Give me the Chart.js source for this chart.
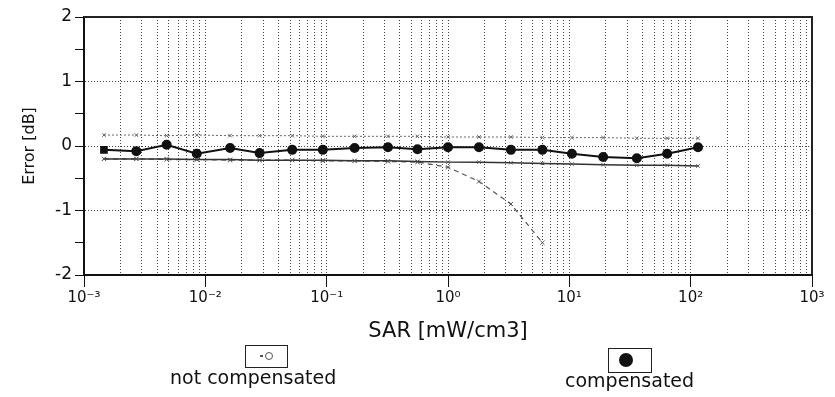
<!DOCTYPE html>
<html>
<head>
<meta charset="utf-8">
<script src="https://cdn.jsdelivr.net/npm/chart.js@4.4.1/dist/chart.umd.min.js"></script>
<style>
  body { margin: 0; background: #fff; }
  #wrap { position: relative; width: 835px; height: 397px; }
  .leg { position: absolute; font-family: "DejaVu Sans", sans-serif; font-size: 19px; color: #111; white-space: nowrap; }
  .box { position: absolute; border: 1px solid #222; background: #fff; }
</style>
</head>
<body>
<div id="wrap">
  <canvas id="c" width="835" height="397"></canvas>
  <div class="box" style="left:245px;top:345px;width:41px;height:21px;">
    <span style="position:absolute;left:14px;top:9px;width:3px;height:2px;background:#555;"></span>
    <span style="position:absolute;left:19px;top:6px;width:6px;height:6px;border:1px solid #555;border-radius:50%;"></span>
  </div>
  <div class="leg" style="left:170px;top:366px;">not compensated</div>
  <div class="box" style="left:608px;top:348px;width:42px;height:23px;">
    <span style="position:absolute;left:10px;top:4px;width:14px;height:14px;background:#111;border-radius:50%;"></span>
  </div>
  <div class="leg" style="left:565px;top:369px;">compensated</div>
</div>
<script>
// x axis: decades shown, minor steps inside each decade
var decades = [-3, -2, -1, 0, 1, 2, 3];
var minorSteps = [1, 2, 3, 4, 5, 6, 7, 8, 9];
var decadeLabels = ['10\u207B\u00B3', '10\u207B\u00B2', '10\u207B\u00B9', '10\u2070', '10\u00B9', '10\u00B2', '10\u00B3'];

// SAR [mW/cm3] of the measured points
var sarPoints = [0.00146, 0.0027, 0.0048, 0.0085, 0.016, 0.028, 0.052, 0.093, 0.17, 0.32,
                 0.56, 1.0, 1.8, 3.3, 6.0, 10.5, 19, 36, 64, 115];
// compensated error [dB]
var errCompensated = [-0.06, -0.08, 0.02, -0.12, -0.03, -0.11, -0.06, -0.06, -0.03, -0.02,
                      -0.05, -0.02, -0.02, -0.06, -0.06, -0.12, -0.17, -0.19, -0.12, -0.02];
// not compensated error [dB] (stops at 6 mW/cm3)
var errNotCompensated = [-0.2, -0.2, -0.21, -0.21, -0.22, -0.22, -0.22, -0.23, -0.23, -0.24,
                         -0.25, -0.33, -0.55, -0.9, -1.5];
// upper / lower traces
var errUpper = [0.17, 0.17, 0.16, 0.17, 0.16, 0.16, 0.16, 0.15, 0.15, 0.15,
                0.15, 0.14, 0.14, 0.14, 0.13, 0.13, 0.13, 0.12, 0.12, 0.12];
var errLower = [-0.2, -0.2, -0.2, -0.21, -0.21, -0.22, -0.22, -0.22, -0.23, -0.23,
                -0.24, -0.25, -0.25, -0.26, -0.27, -0.28, -0.29, -0.3, -0.3, -0.31];

var xTickValues = [];
decades.forEach(function (d) {
  minorSteps.forEach(function (m) {
    if (d < 3 || m === 1) xTickValues.push(m * Math.pow(10, d));
  });
});

function decadeIndex(v) {
  var e = Math.log10(v);
  var r = Math.round(e);
  return Math.abs(e - r) < 1e-6 ? decades.indexOf(r) : -1;
}

function pts(ys) {
  return ys.map(function (y, i) { return { x: sarPoints[i], y: y }; });
}

var frame = {
  id: 'frame',
  beforeDatasetsDraw: function (chart) {
    var a = chart.chartArea, ctx = chart.ctx;
    ctx.save();
    ctx.strokeStyle = '#222';
    ctx.lineWidth = 2;
    ctx.beginPath();
    ctx.moveTo(a.left, a.top);
    ctx.lineTo(a.right, a.top);
    ctx.lineTo(a.right, a.bottom);
    ctx.stroke();
    ctx.restore();
  }
};

var font = 'DejaVu Sans';

new Chart(document.getElementById('c'), {
  type: 'line',
  data: {
    datasets: [
      {
        label: 'upper',
        data: pts(errUpper),
        borderColor: '#666', borderWidth: 1, borderDash: [2, 2],
        pointStyle: 'crossRot', pointRadius: 2.5, pointBorderColor: '#666', pointBorderWidth: 1
      },
      {
        label: 'lower',
        data: pts(errLower),
        borderColor: '#333', borderWidth: 1.5,
        pointStyle: 'crossRot', pointRadius: 2.5, pointBorderColor: '#555', pointBorderWidth: 1
      },
      {
        label: 'not compensated',
        data: pts(errNotCompensated),
        borderColor: '#555', borderWidth: 1.2, borderDash: [5, 4],
        pointStyle: 'crossRot', pointRadius: 3, pointBorderColor: '#555', pointBorderWidth: 1
      },
      {
        label: 'compensated',
        data: pts(errCompensated),
        borderColor: '#111', borderWidth: 2,
        pointStyle: errCompensated.map(function (v, i) { return i === 0 ? 'rect' : 'circle'; }),
        pointRadius: 4, pointBackgroundColor: '#111', pointBorderColor: '#111'
      }
    ]
  },
  options: {
    responsive: false,
    animation: false,
    devicePixelRatio: 1,
    layout: { padding: { top: 17, right: 23, bottom: 52, left: 0 } },
    plugins: { legend: { display: false }, tooltip: { enabled: false } },
    scales: {
      x: {
        type: 'logarithmic',
        min: 1e-3,
        max: 1e3,
        afterBuildTicks: function (s) { s.ticks = xTickValues.map(function (v) { return { value: v }; }); },
        afterFit: function (s) { s.height = 70; },
        ticks: {
          autoSkip: false, maxRotation: 0, padding: 2, color: '#111',
          font: { family: font, size: 15 },
          callback: function (v) { var i = decadeIndex(v); return i >= 0 ? decadeLabels[i] : ''; }
        },
        grid: {
          color: '#444', lineWidth: 1, tickLength: 12, tickBorderDash: [1, 0],
          tickColor: function (ctx) { return decadeIndex(ctx.tick.value) >= 0 ? '#111' : 'rgba(0,0,0,0)'; }
        },
        border: { color: '#111', width: 2, dash: [1, 2] },
        title: { display: true, text: 'SAR [mW/cm3]', color: '#111', font: { family: font, size: 21 }, padding: { top: 0, bottom: 1 } }
      },
      y: {
        min: -2,
        max: 2,
        afterFit: function (s) { s.width = 84; },
        ticks: {
          stepSize: 0.5, padding: 3, color: '#111',
          font: { family: font, size: 17 },
          callback: function (v) { return Number.isInteger(v) ? String(v) : ''; }
        },
        grid: {
          lineWidth: 1, tickLength: 9, tickBorderDash: [1, 0], tickColor: '#111',
          color: function (ctx) { var v = ctx.tick.value; return (Number.isInteger(v) && Math.abs(v) < 2) ? '#444' : 'rgba(0,0,0,0)'; }
        },
        border: { color: '#111', width: 2, dash: [1, 2] },
        title: { display: true, text: 'Error [dB]', color: '#111', font: { family: font, size: 16 }, padding: { top: 20, bottom: 0 } }
      }
    }
  },
  plugins: [frame]
});
</script>
</body>
</html>
